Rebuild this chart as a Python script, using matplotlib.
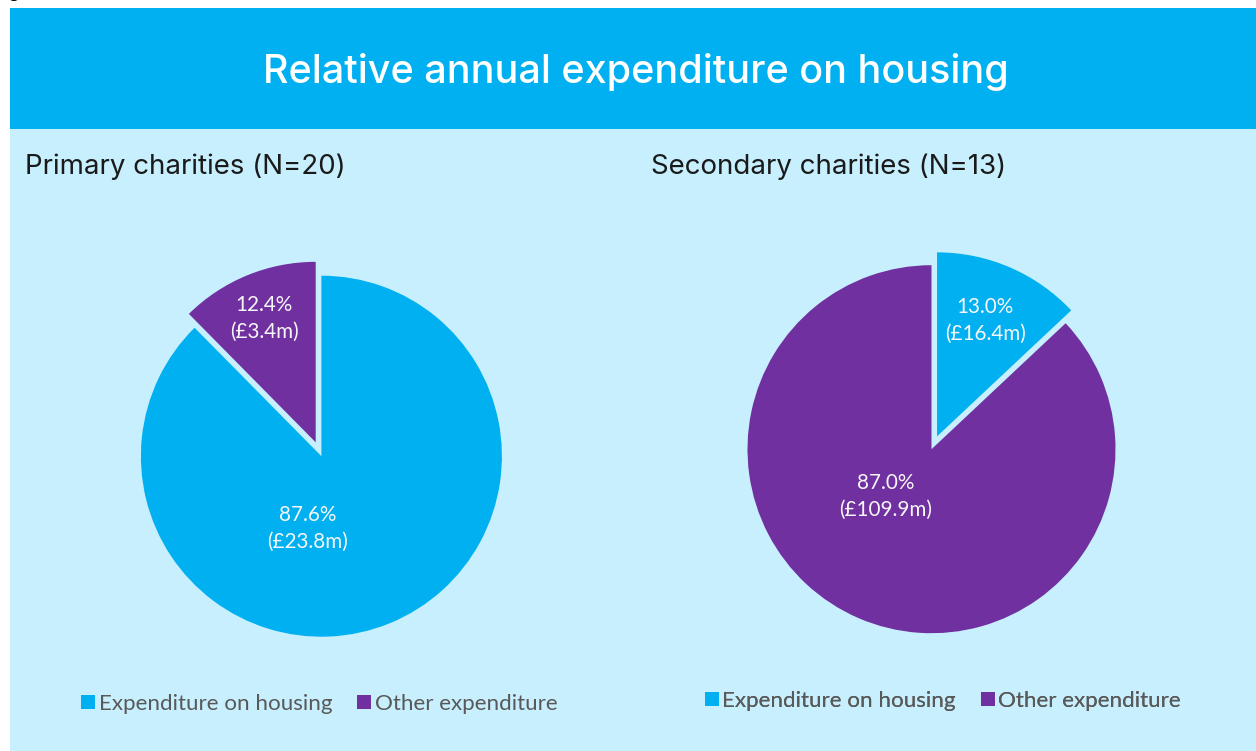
import matplotlib
matplotlib.use('Agg')
import matplotlib.pyplot as plt
from matplotlib.patches import Rectangle
from matplotlib.textpath import TextPath
from matplotlib.font_manager import FontProperties

W, H, DPI = 1256, 751, 100

# ---------------- data ----------------
title = "Relative annual expenditure on housing"
panel_titles = ["Primary charities (N=20)", "Secondary charities (N=13)"]
categories = ["Expenditure on housing", "Other expenditure"]
primary_pct = [87.6, 12.4]
primary_gbp_m = [23.8, 3.4]
secondary_pct = [13.0, 87.0]
secondary_gbp_m = [16.4, 109.9]

# ---------------- style ----------------
BLUE = '#00B0F0'
PURPLE = '#7030A0'
PANEL_BG = '#C7EFFE'
colors = [BLUE, PURPLE]
HEAD_FONT = 'Inter'
BODY_FONT = 'Lato'


def fit(s, family, target_px, weight='normal'):
    fp = FontProperties(family=family, weight=weight)
    w = max(TextPath((0, 0), ln, size=100, prop=fp).get_extents().width
            for ln in s.split('\n'))
    return 100 * target_px / w * 72 / DPI


def Y(py):
    return H - py


fig = plt.figure(figsize=(W / DPI, H / DPI), dpi=DPI, facecolor='white')
ax = fig.add_axes([0, 0, 1, 1])

# background panels
ax.add_patch(Rectangle((10, Y(751)), W - 10, 751 - 129, facecolor=PANEL_BG,
                       edgecolor='none', zorder=0))
ax.add_patch(Rectangle((10, Y(129)), W - 10, 129 - 8, facecolor=BLUE,
                       edgecolor='none', zorder=0))

# cut-off caption fragment at very top (as in the reference)
fig.text(8 / W, 1 + 2 / H, 'g', va='baseline', ha='left', fontsize=14,
         family=BODY_FONT, color='black')

# title
fs_title = fit(title, HEAD_FONT, 739, weight='medium')
ax.text(636, Y(83), title, ha='center', va='baseline', color='white',
        fontsize=fs_title, family=HEAD_FONT, weight='medium')

panels = [
    dict(pct=primary_pct, gbp=primary_gbp_m, center=(321.4, 456.2), r=180.5,
         explode=[0, 15], label_off=[(-13.6, 71.8), (-57.4, -137.9)],
         title_x=26, legend_xy=(319.5, 704)),
    dict(pct=secondary_pct, gbp=secondary_gbp_m, center=(931.5, 449.2), r=184,
         explode=[14, 0], label_off=[(53.5, -129.2), (-45.7, 47.5)],
         title_x=651.7, legend_xy=(943, 701)),
]

fs_sub = fit(panel_titles[1], HEAD_FONT, 351.6)
fs_lab = fit("(£23.8m)", BODY_FONT, 79)
fs_leg = fit(categories[0], BODY_FONT, 230)
fs_leg_px = fs_leg * DPI / 72
hl = 14 / fs_leg_px

for i, p in enumerate(panels):
    cx, cy = p['center']
    wedges, _ = ax.pie(p['pct'], colors=colors, startangle=90, counterclock=False,
                       radius=p['r'], center=(cx, Y(cy)), explode=p['explode'],
                       wedgeprops=dict(linewidth=0))
    for pct, gbp, (dx, dy) in zip(p['pct'], p['gbp'], p['label_off']):
        ax.text(cx + dx, Y(cy + dy), f"{pct:.1f}%\n(£{gbp:.1f}m)", ha='center',
                va='center', color='#F7F7F7', fontsize=fs_lab, family=BODY_FONT,
                linespacing=1.42)
    ax.text(p['title_x'] - 1, Y(174), panel_titles[i], ha='left', va='baseline',
            color='#1A1A1A', fontsize=fs_sub, family=HEAD_FONT)
    lx, ly = p['legend_xy']
    leg = ax.legend(wedges, categories, loc='center', bbox_to_anchor=(lx, Y(ly)),
                    bbox_transform=ax.transData, ncol=2, frameon=False,
                    handlelength=hl, handleheight=hl,
                    handletextpad=3.5 / fs_leg_px, columnspacing=25 / fs_leg_px,
                    labelcolor='#595959', borderpad=0, borderaxespad=0,
                    prop=dict(family=BODY_FONT, size=fs_leg))
    ax.add_artist(leg)

ax.set_xlim(0, W)
ax.set_ylim(0, H)
ax.set_aspect('auto')
ax.axis('off')

fig.savefig('out.png', dpi=DPI, facecolor='white')
